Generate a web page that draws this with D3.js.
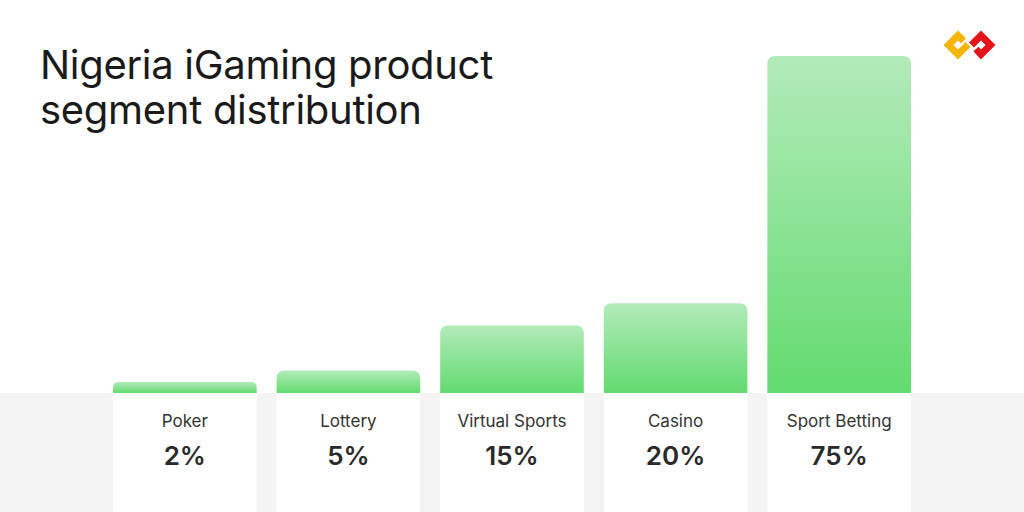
<!DOCTYPE html>
<html><head><meta charset="utf-8">
<script src="https://cdn.jsdelivr.net/npm/d3@7"></script>
<style>
html,body{margin:0;padding:0;background:#fff;}
svg{display:block;font-family:Inter,"Noto Sans",sans-serif;}
</style></head>
<body>
<svg id="chart" width="1024" height="512"></svg>
<script>
const categories = ["Poker","Lottery","Virtual Sports","Casino","Sport Betting"];
const values = [2,5,15,20,75];
const valueLabels = ["2%","5%","15%","20%","75%"];
const titleLines = ["Nigeria iGaming product","segment distribution"];

const svg = d3.select("#chart");
const W = 1024, H = 512, baseY = 393;

// grey band
svg.append("rect").attr("x",0).attr("y",baseY).attr("width",W).attr("height",H-baseY).attr("fill","#f4f4f4");

const x = d3.scaleBand().domain(categories).range([113,911]).paddingInner(0.122);
const y = d3.scaleLinear().domain([0,75]).range([baseY,56]);

const defs = svg.append("defs");
const grad = defs.append("linearGradient").attr("id","barGrad").attr("x1",0).attr("y1",0).attr("x2",0).attr("y2",1);
grad.append("stop").attr("offset","0%").attr("stop-color","#b3ebba");
grad.append("stop").attr("offset","100%").attr("stop-color","#62db6f");

const data = categories.map((c,i)=>({c, v:values[i], l:valueLabels[i]}));

// white cards
svg.selectAll("rect.card").data(data).join("rect").attr("class","card")
  .attr("x",d=>x(d.c)).attr("y",baseY).attr("width",x.bandwidth()).attr("height",H-baseY).attr("fill","#fff");

// bars with rounded top corners
const r = 8;
svg.selectAll("path.bar").data(data).join("path").attr("class","bar")
  .attr("fill","url(#barGrad)")
  .attr("d",d=>{
    const x0 = x(d.c), w = x.bandwidth(), yt = Math.min(y(d.v), baseY-11), yb = baseY;
    const rr = Math.min(r, (yb-yt)/2);
    return `M${x0},${yb}V${yt+rr}Q${x0},${yt} ${x0+rr},${yt}H${x0+w-rr}Q${x0+w},${yt} ${x0+w},${yt+rr}V${yb}Z`;
  });

// labels
svg.selectAll("text.cat").data(data).join("text").attr("class","cat")
  .attr("x",d=>x(d.c)+x.bandwidth()/2).attr("y",427)
  .attr("text-anchor","middle").attr("font-size",17).attr("fill","#333")
  .text(d=>d.c);
svg.selectAll("text.val").data(data).join("text").attr("class","val")
  .attr("x",d=>x(d.c)+x.bandwidth()/2).attr("y",465)
  .attr("text-anchor","middle").attr("font-size",26).attr("font-weight",600).attr("fill","#2a2a2a")
  .text(d=>d.l);

// title
svg.append("text").attr("x",40).attr("y",79).attr("font-size",40).attr("fill","#1a1a1a").attr("letter-spacing","-0.3")
  .selectAll("tspan").data(titleLines).join("tspan")
  .attr("x",40).attr("dy",(d,i)=>i?45:0).text(d=>d);

// logo
const logo = svg.append("g").attr("fill","none").attr("stroke-width",7).attr("stroke-linejoin","miter").attr("stroke-linecap","butt");
logo.append("path").attr("stroke","#f5b500")
  .attr("d","M963.5,41 L958,35.5 L948.5,45 L958,54.5 L968,44.5");
logo.append("path").attr("stroke","#e3151b")
  .attr("d","M976,49 L981,54.5 L990.5,45 L981,35.5 L971.5,45");
</script>
</body></html>
